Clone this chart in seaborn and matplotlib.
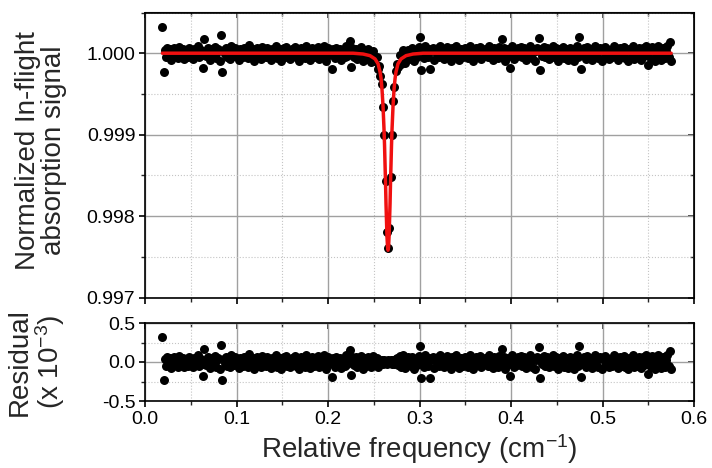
import numpy as np
import pandas as pd
import seaborn as sns
import matplotlib
matplotlib.use("Agg")
import matplotlib.pyplot as plt
from matplotlib.ticker import MultipleLocator, FormatStrFormatter

# sample grid of the scan (cm-1)
freq_start, freq_stop = 0.019, 0.575

# residual of the fit, in units of 10^-3
residual = [
    0.32, -0.23, 0.04, -0.05, 0.07, -0.02, 0.05, -0.08, 0.01, 0.06, -0.04, 0.03, -0.06, 0.08, 0.00, -0.03, 0.05, -0.07, 0.02, 0.04,
    -0.05, 0.07, -0.01, 0.03, -0.07, 0.05, -0.02, 0.01, 0.09, -0.05, 0.04, -0.02, -0.18, 0.17, -0.04, 0.02, 0.06, -0.08, 0.01, 0.05,
    -0.03, 0.08, -0.06, 0.02, 0.05, -0.09, 0.22, -0.23, 0.04, -0.01, 0.07, -0.05, 0.03, -0.07, 0.09, 0.01, -0.04, 0.06, -0.02, 0.03,
    -0.08, 0.05, 0.01, -0.05, 0.07, -0.02, 0.04, -0.06, 0.10, 0.00, -0.03, 0.05, -0.09, 0.03, 0.06, -0.05, 0.02, -0.07, 0.08, -0.01,
    0.04, -0.05, 0.07, -0.03, 0.01, -0.08, 0.05, 0.03, -0.04, 0.09, -0.06, 0.02, 0.05, -0.09, 0.01, 0.06, -0.03, 0.08, -0.05, 0.03,
    -0.07, 0.03, 0.05, -0.02, 0.08, -0.05, 0.01, -0.09, 0.05, 0.07, -0.03, 0.03, -0.06, 0.09, -0.01, 0.04, -0.08, 0.06, 0.02, -0.05,
    0.05, -0.03, 0.08, -0.07, 0.03, 0.01, -0.05, 0.09, -0.09, 0.04, 0.06, -0.02, 0.03, -0.19, 0.05, -0.06, 0.07, 0.01, -0.04, 0.05,
    -0.08, 0.03, 0.02, -0.05, 0.09, -0.03, 0.05, 0.15, -0.17, 0.07, -0.04, 0.01, 0.06, -0.07, 0.04, -0.02, 0.08, -0.09, 0.03, 0.05,
    -0.05, 0.07, -0.01, 0.04, -0.06, 0.08, -0.03, 0.02, 0.05, -0.07, 0.03, -0.02, 0.02, -0.03, 0.02, 0.01, -0.02, 0.02, -0.01, 0.02,
    -0.02, 0.03, -0.02, 0.04, 0.05, -0.04, 0.08, -0.06, 0.03, 0.09, -0.08, 0.05, -0.03, 0.06, 0.01, -0.05, 0.07, -0.09, 0.04, 0.02,
    -0.04, 0.08, 0.20, -0.20, 0.03, -0.06, 0.09, 0.01, -0.05, 0.05, -0.20, 0.03, 0.07, -0.08, 0.04, -0.01, 0.06, -0.05, 0.09, -0.03,
    0.02, -0.07, 0.05, 0.08, -0.04, 0.01, -0.09, 0.06, 0.03, -0.05, 0.09, -0.02, 0.04, -0.08, 0.05, 0.01, -0.05, 0.07, -0.03, 0.03,
    -0.06, 0.09, -0.01, 0.05, -0.09, 0.03, 0.06, -0.04, 0.02, 0.08, -0.07, 0.04, -0.03, 0.05, 0.01, -0.05, 0.09, -0.05, 0.03, -0.08,
    0.06, -0.02, 0.04, -0.06, 0.08, 0.01, 0.17, -0.05, 0.07, -0.09, 0.03, 0.05, -0.03, -0.18, 0.09, 0.02, -0.07, 0.05, -0.04, 0.06,
    -0.01, 0.08, -0.05, 0.03, 0.07, -0.08, 0.04, -0.03, 0.09, 0.01, -0.06, 0.05, -0.09, 0.03, 0.06, 0.19, -0.21, 0.05, -0.03, 0.08,
    -0.05, 0.02, 0.07, -0.07, 0.04, -0.02, 0.09, -0.05, 0.03, 0.06, -0.09, 0.05, 0.01, -0.04, 0.08, -0.06, 0.03, 0.05, -0.08, 0.02,
    0.07, -0.03, 0.05, -0.09, 0.03, 0.09, -0.05, 0.20, -0.19, 0.04, -0.02, 0.06, -0.07, 0.08, 0.01, -0.05, 0.05, -0.08, 0.03, 0.09,
    -0.04, 0.03, -0.06, 0.07, 0.05, -0.09, 0.02, 0.08, -0.03, 0.05, -0.07, 0.04, 0.01, -0.05, 0.09, -0.03, 0.06, -0.08, 0.03, 0.07,
    -0.05, 0.01, 0.08, -0.06, 0.04, -0.09, 0.05, 0.03, -0.03, 0.09, -0.07, 0.05, 0.02, -0.05, 0.07, -0.08, 0.03, 0.06, -0.04, 0.09,
    -0.02, -0.15, 0.05, -0.07, 0.08, 0.03, -0.09, 0.06, -0.04, 0.09, 0.01, -0.08, 0.05, 0.07, -0.06, 0.03, 0.09, -0.05, 0.14, -0.09,
]

# fitted line shape (red curve): frequency and depth below 1, in units of 10^-3
fit_freq = [0.019, 0.2274, 0.2383, 0.2459, 0.2514, 0.2547, 0.2569, 0.2580, 0.2590, 0.2601,
            0.2612, 0.2618, 0.2623, 0.2629, 0.2634, 0.2640, 0.2645, 0.2651, 0.2656,
            0.2662, 0.2667, 0.2672, 0.2678, 0.2683, 0.2689, 0.2694, 0.2700, 0.2711,
            0.2722, 0.2733, 0.2743, 0.2765, 0.2798, 0.2853, 0.2929, 0.3039, 0.575]
fit_depth = [0.0, 0.0, 0.01, 0.03, 0.07, 0.13, 0.23, 0.31, 0.44, 0.64,
             0.93, 1.13, 1.35, 1.60, 1.85, 2.08, 2.26, 2.38, 2.42,
             2.38, 2.26, 2.08, 1.85, 1.60, 1.35, 1.13, 0.93, 0.64,
             0.44, 0.31, 0.23, 0.13, 0.07, 0.03, 0.01, 0.0, 0.0]

freq = np.linspace(freq_start, freq_stop, len(residual))
resid = np.array(residual)
signal = 1 - np.interp(freq, fit_freq, fit_depth) * 1e-3 + resid * 1e-3

df = pd.DataFrame({"freq": freq, "signal": signal, "residual": resid})
df_fit = pd.DataFrame({"freq": fit_freq, "signal": 1 - np.array(fit_depth) * 1e-3})

sns.set_style("ticks")
plt.rcParams["font.family"] = ["Liberation Sans", "DejaVu Sans"]
plt.rcParams["axes.unicode_minus"] = False
plt.rcParams["mathtext.fontset"] = "custom"
plt.rcParams["mathtext.rm"] = "Liberation Sans"
plt.rcParams["mathtext.it"] = "Liberation Sans:italic"

W, H = 712, 468
fig = plt.figure(figsize=(W / 100, H / 100), dpi=100)
ax1 = fig.add_axes([145 / W, 1 - 297.5 / H, 549 / W, 285 / H])
ax2 = fig.add_axes([145 / W, 1 - 401 / H, 549 / W, 78 / H])

sns.scatterplot(data=df, x="freq", y="signal", ax=ax1, color="black", s=42,
                linewidth=0, zorder=3)
sns.lineplot(data=df_fit, x="freq", y="signal", ax=ax1, color="#f01010",
             linewidth=2.5, zorder=4)
sns.scatterplot(data=df, x="freq", y="residual", ax=ax2, color="black", s=42,
                linewidth=0, zorder=3)

ax1.set_ylim(0.997, 1.0005)
ax2.set_ylim(-0.5, 0.5)
ax1.yaxis.set_major_locator(MultipleLocator(0.001))
ax1.yaxis.set_minor_locator(MultipleLocator(0.0005))
ax1.yaxis.set_major_formatter(FormatStrFormatter("%.3f"))
ax2.yaxis.set_major_locator(MultipleLocator(0.5))
ax2.yaxis.set_minor_locator(MultipleLocator(0.25))
ax2.yaxis.set_major_formatter(FormatStrFormatter("%.1f"))

for ax in (ax1, ax2):
    ax.set_xlim(0, 0.6)
    ax.xaxis.set_major_locator(MultipleLocator(0.1))
    ax.xaxis.set_minor_locator(MultipleLocator(0.05))
    ax.set_axisbelow(True)
    ax.grid(which="major", color="#a0a0a0", linewidth=1.0, linestyle="-")
    ax.grid(which="minor", color="#c4c4c4", linewidth=0.8, linestyle=":")
    for sp in ax.spines.values():
        sp.set_visible(True)
        sp.set_linewidth(1.2)
        sp.set_color("black")
    ax.tick_params(which="major", direction="out", length=4.5, width=1.2,
                   labelsize=14, pad=2.5, colors="black")
    ax.tick_params(which="minor", direction="out", length=3, width=1.0)
    # ticks pointing inward on top and right
    top = ax.secondary_xaxis("top")
    top.xaxis.set_major_locator(MultipleLocator(0.1))
    top.xaxis.set_minor_locator(MultipleLocator(0.05))
    top.tick_params(which="major", direction="in", length=4.5, width=1.2, labeltop=False)
    top.tick_params(which="minor", direction="in", length=3, width=1.0)
    right = ax.secondary_yaxis("right")
    right.yaxis.set_major_locator(ax.yaxis.get_major_locator())
    right.yaxis.set_minor_locator(ax.yaxis.get_minor_locator())
    right.tick_params(which="major", direction="in", length=4.5, width=1.2, labelright=False)
    right.tick_params(which="minor", direction="in", length=3, width=1.0)

ax1.tick_params(axis="x", labelbottom=False)
ax1.set_xlabel("")
ax1.set_ylabel("Normalized In-flight\nabsorption signal", fontsize=20, linespacing=1.0)
ax1.yaxis.set_label_coords(-0.142, 0.517)
ax2.set_ylabel("Residual\n(x 10$^{-3}$)", fontsize=20, linespacing=1.0)
ax2.yaxis.set_label_coords(-0.142, 0.5)
ax2.set_xlabel("Relative frequency (cm$^{-1}$)", fontsize=20, labelpad=3)

fig.savefig("out.png", dpi=100)
